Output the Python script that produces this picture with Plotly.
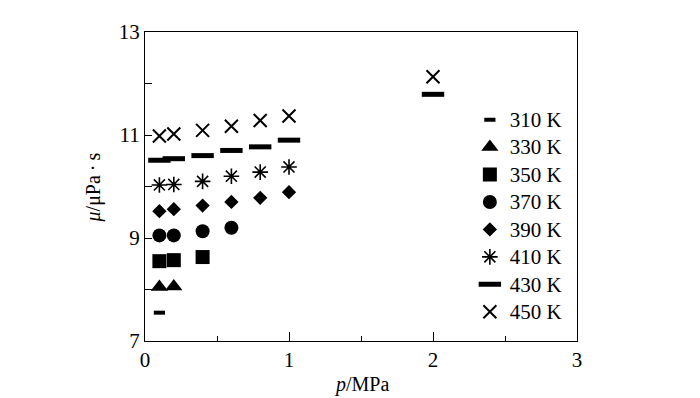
import plotly.graph_objects as go

labels = ["310 K", "330 K", "350 K", "370 K", "390 K", "410 K", "430 K", "450 K"]
p_310 = [0.1]
mu_310 = [7.55]
p_330 = [0.1, 0.2]
mu_330 = [8.05, 8.06]
p_350 = [0.1, 0.2, 0.4]
mu_350 = [8.55, 8.57, 8.63]
p_370 = [0.1, 0.2, 0.4, 0.6]
mu_370 = [9.05, 9.05, 9.13, 9.20]
p_390 = [0.1, 0.2, 0.4, 0.6, 0.8, 1.0]
mu_390 = [9.52, 9.56, 9.63, 9.70, 9.78, 9.89]
p_410 = [0.1, 0.2, 0.4, 0.6, 0.8, 1.0]
mu_410 = [10.03, 10.04, 10.10, 10.20, 10.28, 10.38]
p_430 = [0.1, 0.2, 0.4, 0.6, 0.8, 1.0, 2.0]
mu_430 = [10.51, 10.54, 10.60, 10.70, 10.77, 10.90, 11.79]
p_450 = [0.1, 0.2, 0.4, 0.6, 0.8, 1.0, 2.0]
mu_450 = [10.98, 11.02, 11.09, 11.17, 11.28, 11.37, 12.13]

series = [
    (p_310, mu_310, dict(symbol="line-ew-open", size=8, line=dict(width=4, color="black"), color="black")),
    (p_330, mu_330, dict(symbol="triangle-up", size=15, color="black", line=dict(width=0))),
    (p_350, mu_350, dict(symbol="square", size=14, color="black", line=dict(width=0))),
    (p_370, mu_370, dict(symbol="circle", size=14, color="black", line=dict(width=0))),
    (p_390, mu_390, dict(symbol="diamond", size=11, color="black", line=dict(width=0))),
    (p_410, mu_410, dict(symbol="asterisk-open", size=13, color="black", line=dict(width=1.6, color="black"))),
    (p_430, mu_430, dict(symbol="line-ew-open", size=16, line=dict(width=5, color="black"), color="black")),
    (p_450, mu_450, dict(symbol="x-thin-open", size=13, line=dict(width=2, color="black"), color="black")),
]

FONT = "Liberation Serif, Times New Roman, serif"

fig = go.Figure()
for lab, (xs, ys, mk) in zip(labels, series):
    fig.add_trace(go.Scatter(x=xs, y=ys, mode="markers",
                             name="<span style='font-size:21px'>%s</span>" % lab,
                             marker=mk))

fig.update_layout(
    width=692, height=390,
    margin=dict(l=137, r=123, t=13, b=57),
    paper_bgcolor="white", plot_bgcolor="white",
    font=dict(family=FONT, size=21, color="black"),
    showlegend=True,
    legend=dict(x=0.752, y=0.777, xanchor="left", yanchor="top",
                bgcolor="rgba(0,0,0,0)", font=dict(size=18.8, family=FONT),
                itemwidth=30, tracegroupgap=0),
    xaxis=dict(range=[0, 3], dtick=1, tick0=0, showgrid=False, zeroline=False,
               showline=True, linecolor="black", linewidth=1, mirror=True,
               ticks="inside", ticklen=9, tickcolor="black", tickwidth=1,
               tickfont=dict(size=21, family=FONT),
               minor=dict(dtick=0.5, ticks="inside", ticklen=5, tickcolor="black", showgrid=False)),
    yaxis=dict(range=[7, 13], dtick=2, tick0=7, showgrid=False, zeroline=False,
               showline=True, linecolor="black", linewidth=1, mirror=True,
               ticks="inside", ticklen=7, tickcolor="black", tickwidth=1,
               tickfont=dict(size=21, family=FONT),
               minor=dict(dtick=1, ticks="inside", ticklen=7, tickcolor="black", showgrid=False)),
)

fig.add_annotation(text="<i>p</i>/MPa", xref="paper", yref="paper",
                   x=0.5, y=-45/320, xanchor="center", yanchor="middle",
                   showarrow=False, font=dict(size=20, family=FONT))
fig.add_annotation(text="<i>μ</i>/μPa\u2009·\u2009s", xref="paper", yref="paper",
                   x=-52/432, y=(341-182)/320, xanchor="center", yanchor="middle",
                   textangle=-90, showarrow=False, font=dict(size=20, family=FONT))

fig.write_html("out.html")
